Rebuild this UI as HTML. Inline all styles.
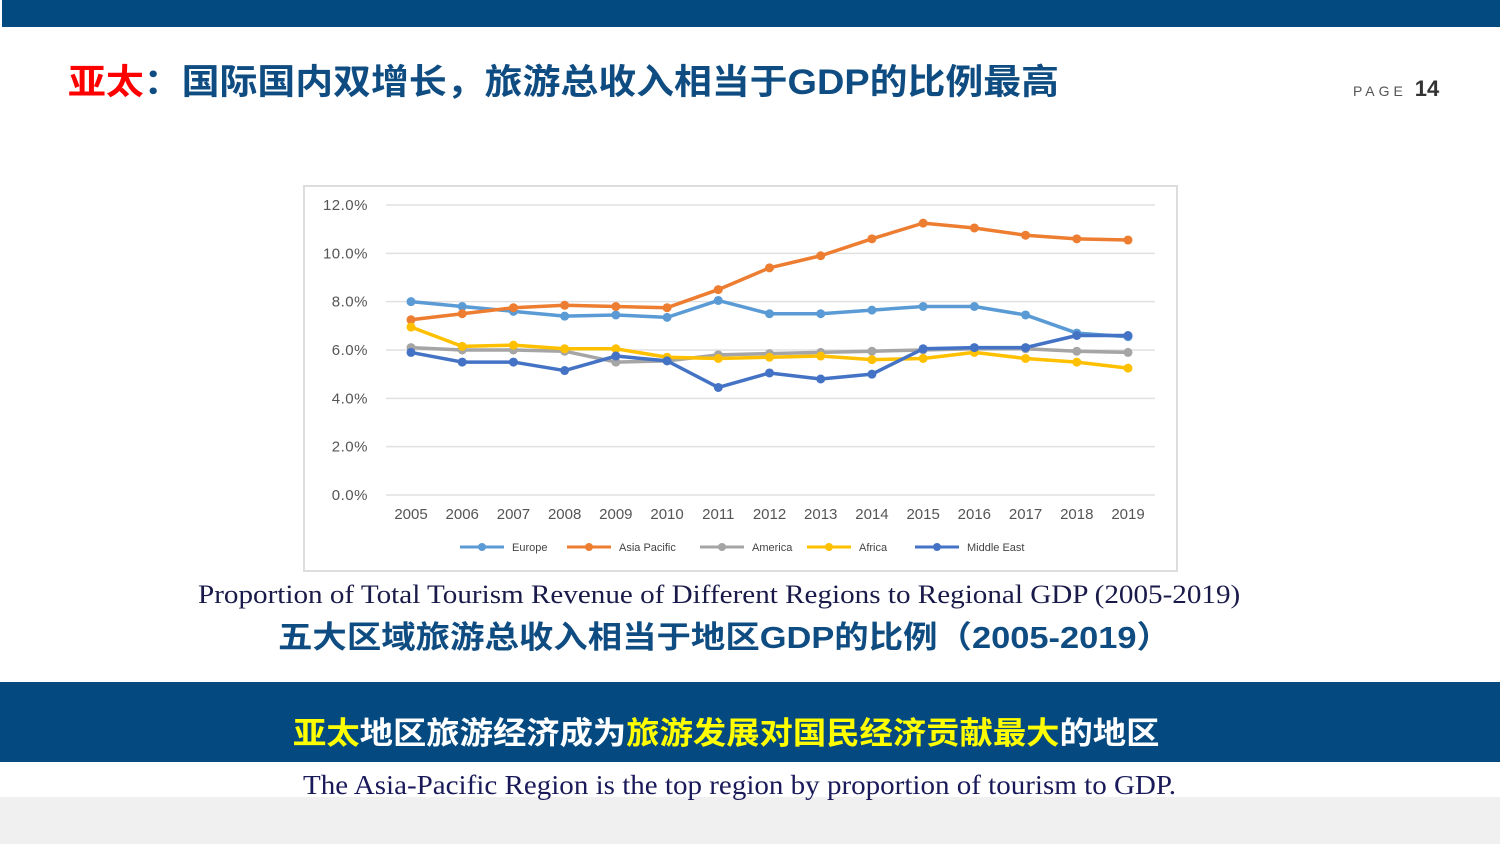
<!DOCTYPE html>
<html><head><meta charset="utf-8"><style>
body{margin:0;width:1500px;height:844px;position:relative;overflow:hidden;background:#fff;font-family:"Liberation Sans","Noto Sans CJK SC",sans-serif}
.abs{position:absolute;white-space:nowrap;transform-origin:0 0}
</style></head><body>
<div class="abs" style="left:2px;top:0;width:1498px;height:27px;background:#024a80"></div>
<div class="abs" style="left:0;top:797px;width:1500px;height:47px;background:#f0f0f0"></div>
<div class="abs" style="left:68px;top:54px;font-size:35px;font-weight:bold;color:#0f4c81;transform:scaleX(1.082)"><span style="color:#f00">亚太</span>：国际国内双增长，旅游总收入相当于GDP的比例最高</div>
<div class="abs" style="left:1353px;top:76px;font-size:14px;color:#555;letter-spacing:4px">PAGE <b style="font-size:22px;letter-spacing:0;color:#333">14</b></div>
<svg class="abs" style="left:0;top:0" width="1500" height="844">
<rect x="304" y="186" width="873" height="385" fill="#fff" stroke="#ddd" stroke-width="2"/>
<g id="grid"></g><g id="lines"></g><g id="legend"></g>
</svg>
<div class="abs" style="left:198px;top:580px;font-family:'Liberation Serif',serif;font-size:26px;color:#1a1a4a;transform:scaleX(1.12)">Proportion of Total Tourism Revenue of Different Regions to Regional GDP (2005-2019)</div>
<div class="abs" style="left:278px;top:612px;font-size:31px;font-weight:bold;color:#0f4c81;transform:scaleX(1.11)">五大区域旅游总收入相当于地区GDP的比例（2005-2019）</div>
<div class="abs" style="left:0;top:682px;width:1500px;height:80px;background:#044a80"></div>
<div class="abs" style="left:293px;top:708px;font-size:31px;font-weight:bold;color:#fff;transform:scaleX(1.075)"><span style="color:#ffff00">亚太</span>地区旅游经济成为<span style="color:#ffff00">旅游发展对国民经济贡献最大</span>的地区</div>
<div class="abs" style="left:303px;top:770px;font-family:'Liberation Serif',serif;font-size:27px;color:#1a1a5a;transform:scaleX(1.075)">The Asia-Pacific Region is the top region by proportion of tourism to GDP.</div>
<script>
const years=["2005","2006","2007","2008","2009","2010","2011","2012","2013","2014","2015","2016","2017","2018","2019"];
const yTicks=[0,2,4,6,8,10,12];
const seriesNames=["Europe","Asia Pacific","America","Africa","Middle East"];
const europe=[8.0,7.8,7.6,7.4,7.45,7.35,8.05,7.5,7.5,7.65,7.8,7.8,7.45,6.7,6.55];
const asiaPacific=[7.25,7.5,7.75,7.85,7.8,7.75,8.5,9.4,9.9,10.6,11.25,11.05,10.75,10.6,10.55];
const america=[6.1,6.0,6.0,5.95,5.5,5.55,5.8,5.85,5.9,5.95,6.0,6.05,6.05,5.95,5.9];
const africa=[6.95,6.15,6.2,6.05,6.05,5.7,5.65,5.7,5.75,5.6,5.65,5.9,5.65,5.5,5.25];
const middleEast=[5.9,5.5,5.5,5.15,5.75,5.55,4.45,5.05,4.8,5.0,6.05,6.1,6.1,6.6,6.6];
const colors=["#5b9bd5","#ed7d31","#a5a5a5","#ffc000","#4472c4"];
const allSeries=[europe,asiaPacific,america,africa,middleEast];
const NS="http://www.w3.org/2000/svg";
const xs=i=>411+i*(1128-411)/(years.length-1);
const ys=v=>495-v*(495-205)/12;
function mk(t,a,p){const e=document.createElementNS(NS,t);for(const k in a)e.setAttribute(k,a[k]);p.appendChild(e);return e;}
const grid=document.getElementById('grid');
yTicks.forEach(t=>{
 const l=mk('line',{x1:386,x2:1155,y1:ys(t),y2:ys(t),stroke:'#e0e0e0','stroke-width':1.5},grid);
 
 
 const tx=mk('text',{x:368,y:ys(t)+5,'text-anchor':'end','font-size':15,fill:'#555','font-family':'Liberation Sans, sans-serif','letter-spacing':'0.5'},grid);
 tx.textContent=t.toFixed(1)+'%';
 
 
});
years.forEach((y,i)=>{
 const tx=mk('text',{x:xs(i),y:519,'text-anchor':'middle','font-size':15,fill:'#555','font-family':'Liberation Sans, sans-serif'},grid);
 tx.textContent=y;
 
 
});
const lines=document.getElementById('lines');
allSeries.forEach((s,k)=>{
 const g=mk('g',{},lines);
 
 
 mk('polyline',{points:s.map((v,i)=>xs(i)+','+ys(v)).join(' '),fill:'none',stroke:colors[k],'stroke-width':3.5,'stroke-linejoin':'round'},g);
 s.forEach((v,i)=>{const c=mk('circle',{cx:xs(i),cy:ys(v),r:4.5,fill:colors[k]},g);
  
  });
});
const lg=document.getElementById('legend');
const lx=[460,567,700,807,915];
seriesNames.forEach((n,k)=>{
 const g=mk('g',{},lg);
 
 
 mk('line',{x1:lx[k],x2:lx[k]+44,y1:547,y2:547,stroke:colors[k],'stroke-width':3},g);
 mk('circle',{cx:lx[k]+22,cy:547,r:4,fill:colors[k]},g);
 const t=mk('text',{x:lx[k]+52,y:551,'font-size':11,fill:'#444','font-family':'Liberation Sans, sans-serif'},g);
 t.textContent=n;
});
</script>
</body></html>
